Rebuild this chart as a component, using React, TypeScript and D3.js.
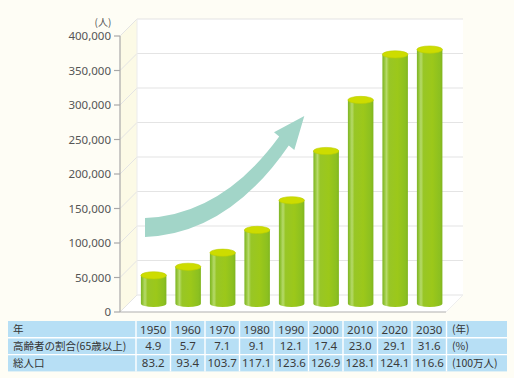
import React from "react";
import * as d3 from "d3";

const years = ["1950", "1960", "1970", "1980", "1990", "2000", "2010", "2020", "2030"];
const elderly = [40800, 53200, 73600, 106600, 149600, 221000, 295000, 361000, 368000];
const elderlyPct = ["4.9", "5.7", "7.1", "9.1", "12.1", "17.4", "23.0", "29.1", "31.6"];
const totalPop = ["83.2", "93.4", "103.7", "117.1", "123.6", "126.9", "128.1", "124.1", "116.6"];
const yTicks = [0, 50000, 100000, 150000, 200000, 250000, 300000, 350000, 400000];
const rowLabels = ["年", "高齢者の割合(65歳以上)", "総人口"];
const rowUnits = ["(年)", "(%)", "(100万人)"];

const W = 514;
const H = 378;
const DEPTH = 17;

export default function App() {
  const x = d3.scaleBand<string>().domain(years).range([136, 446.5]).padding(0);
  const yFront = d3.scaleLinear().domain([0, 400000]).range([312, 36]);
  const yBack = (v: number) => yFront(v) - DEPTH;
  const yMid = (v: number) => yFront(v) - DEPTH / 2;
  const fmt = d3.format(",");
  const axisX = 120;
  const backX0 = axisX + DEPTH;
  const backX1 = 463;
  const floorX1 = backX1 - DEPTH;
  const barW = 25.5;
  const ry = 3.6;
  const bw = x.bandwidth();

  const rows = [years, elderlyPct, totalPop];
  const tableTop = 321;
  const rowH = 16.8;
  const tableL = 8;
  const tableR = 507;

  const arrowPath =
    "M145,218 Q222,215 279.2,136.6 L274,132.3 L304.3,116 L294.3,150 L288.8,145.4 Q228,234 145,237 Z";

  return (
    <svg width={W} height={H} style={{ position: "absolute", left: 0, top: 0 }}
      fontFamily="'Noto Sans CJK JP', 'Noto Sans', sans-serif">
      <defs>
        <linearGradient id="barBody" x1="0" x2="1" y1="0" y2="0">
          <stop offset="0" stopColor="#7db426" />
          <stop offset="0.06" stopColor="#8fc232" />
          <stop offset="0.16" stopColor="#b6da6a" />
          <stop offset="0.26" stopColor="#98c626" />
          <stop offset="0.6" stopColor="#9cc81a" />
          <stop offset="0.9" stopColor="#8cc020" />
          <stop offset="1" stopColor="#80b51f" />
        </linearGradient>
      </defs>
      <rect x={0} y={0} width={W} height={H} fill="#fefdf5" />

      {/* back wall */}
      <rect x={backX0} y={yBack(400000)} width={backX1 - backX0} height={yBack(0) - yBack(400000)} fill="#ffffff" />
      {/* floor */}
      <path
        d={`M${axisX},${yFront(0)} L${backX0},${yBack(0)} L${backX1},${yBack(0)} L${floorX1},${yFront(0)} Z`}
        fill="#ffffff"
      />
      {/* side wall */}
      <path
        d={`M${axisX},${yFront(0)} L${axisX},${yFront(400000)} L${backX0},${yBack(400000)} L${backX0},${yBack(0)} Z`}
        fill="#fcfae6"
      />
      {/* grid lines */}
      {yTicks.map((t) => (
        <g key={t}>
          <line x1={backX0} x2={backX1} y1={yBack(t)} y2={yBack(t)} stroke="#e4e4e4" strokeWidth={1.2} />
          <line x1={axisX} x2={backX0} y1={yFront(t)} y2={yBack(t)} stroke="#e4e4e4" strokeWidth={1} />
        </g>
      ))}
      <line x1={backX0} x2={backX0} y1={yBack(400000)} y2={yBack(0)} stroke="#ececec" strokeWidth={1} />
      <line x1={floorX1} x2={backX1} y1={yFront(0)} y2={yBack(0)} stroke="#eeeeee" strokeWidth={1} />

      {/* axis */}
      <line x1={axisX} x2={axisX} y1={yFront(400000)} y2={yFront(0)} stroke="#a8a8a8" strokeWidth={1.2} />
      <line x1={axisX} x2={floorX1} y1={yFront(0)} y2={yFront(0)} stroke="#b0b0b0" strokeWidth={1.2} />
      {yTicks.map((t) => (
        <g key={"t" + t}>
          <line x1={axisX - 6} x2={axisX} y1={yFront(t)} y2={yFront(t)} stroke="#a8a8a8" strokeWidth={1.2} />
          <text x={axisX - 9} y={yFront(t)} dy="0.36em" textAnchor="end" fontSize={11.5}
            fill="#555" fontFamily="'Noto Sans', sans-serif">
            {fmt(t)}
          </text>
        </g>
      ))}
      <text x={103} y={22} dy="0.35em" textAnchor="middle" fontSize={10} fill="#555">(人)</text>

      {/* arrow */}
      <path d={arrowPath} fill="#a2d5c8" />

      {/* bars */}
      {years.map((yr, i) => {
        const cx = (x(yr) as number) + bw / 2 + 0.4;
        const top = yMid(elderly[i]);
        const bot = yMid(0);
        const l = cx - barW / 2;
        const r = cx + barW / 2;
        const body = `M${l},${top} L${l},${bot} A${barW / 2},${ry} 0 0 0 ${r},${bot} L${r},${top} Z`;
        return (
          <g key={yr}>
            <path d={body} fill="url(#barBody)" />
            <ellipse cx={cx} cy={top} rx={barW / 2} ry={ry} fill="#cddc00" stroke="#bccf00" strokeWidth={0.6} />
          </g>
        );
      })}

      {/* table */}
      <rect x={tableL} y={tableTop} width={tableR - tableL} height={rowH * 3} fill="#b7dff5" />
      {[1, 2].map((k) => (
        <line key={"h" + k} x1={tableL} x2={tableR} y1={tableTop + rowH * k} y2={tableTop + rowH * k}
          stroke="#ffffff" strokeWidth={1.4} />
      ))}
      {[...years.map((yr) => x(yr) as number), 446.5].map((vx, k) => (
        <line key={"v" + k} x1={vx} x2={vx} y1={tableTop} y2={tableTop + rowH * 3}
          stroke="#ffffff" strokeWidth={1.4} />
      ))}
      {rows.map((row, ri) => (
        <g key={"r" + ri}>
          <text x={13} y={tableTop + rowH * ri + rowH / 2} dy="0.36em" fontSize={10.5} fill="#333">
            {rowLabels[ri]}
          </text>
          {row.map((v, ci) => (
            <text key={ci} x={(x(years[ci]) as number) + bw / 2} y={tableTop + rowH * ri + rowH / 2}
              dy="0.36em" textAnchor="middle" fontSize={11.5} fill="#3a3a3a"
              fontFamily="'Noto Sans', sans-serif">
              {v}
            </text>
          ))}
          <text x={452} y={tableTop + rowH * ri + rowH / 2} dy="0.36em" fontSize={10.5} fill="#333">
            {rowUnits[ri]}
          </text>
        </g>
      ))}
    </svg>
  );
}
